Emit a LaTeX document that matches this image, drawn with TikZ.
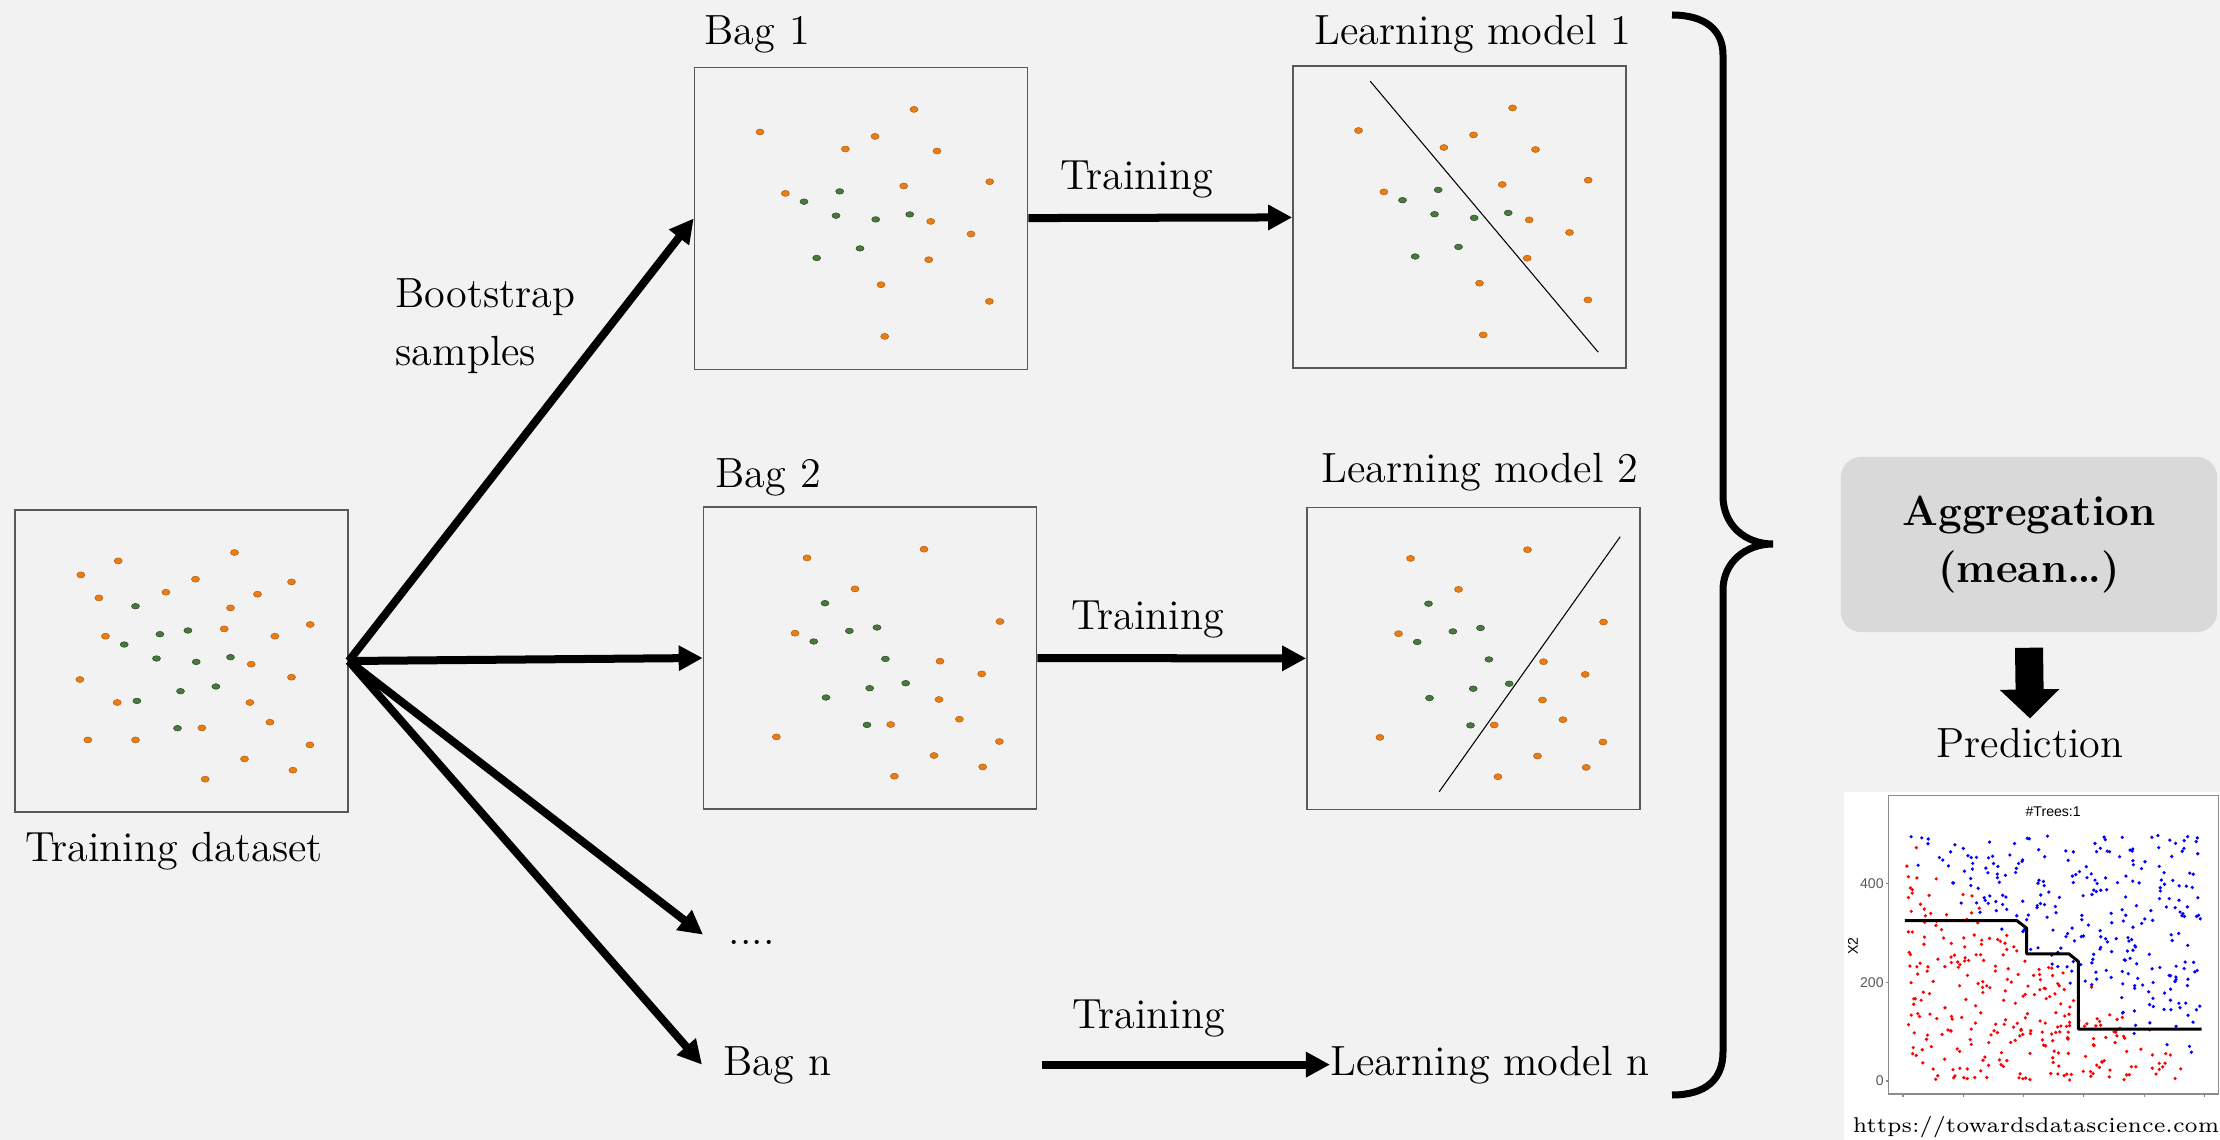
\documentclass[tikz,border=0pt]{standalone}
\usepackage{fontspec}
\newfontfamily\plotfont{Liberation Sans}
\usetikzlibrary{arrows.meta,positioning}
\definecolor{bgcol}{RGB}{242,242,242}
\definecolor{aggcol}{RGB}{217,217,217}
\definecolor{dotorange}{RGB}{235,125,20}
\definecolor{dotgreen}{RGB}{72,122,62}
\definecolor{ptred}{RGB}{255,0,0}
\definecolor{ptblue}{RGB}{0,0,255}
\tikzset{>={Triangle[length=0.24cm,width=0.24cm]}}
\tikzset{
    lbl/.style={font=\fontsize{12}{14}\selectfont,inner sep=0pt,text height=8.2pt,text depth=2.3pt},
    databox/.style={draw=black!65,line width=0.4pt,minimum width=3.33cm,minimum height=3.02cm,inner sep=0pt},
    flow/.style={->,line width=0.08cm},
    orangedot/.style={fill=dotorange,draw=dotorange!75!black,line width=0.15pt},
    greendot/.style={fill=dotgreen,draw=dotgreen!60!black,line width=0.15pt},
    splitline/.style={line width=0.3pt},
    aggbox/.style={fill=aggcol,rounded corners=0.2cm,minimum width=3.76cm,minimum height=1.75cm,
        align=center,font=\bfseries\fontsize{12}{16}\selectfont},
    blockarrow/.style={-{Triangle[length=0.29cm,width=0.58cm]},line width=0.28cm},
    bracestyle/.style={line width=0.07cm},
    plotframe/.style={draw=black!45,line width=0.3pt},
    plottext/.style={font=\plotfont\fontsize{4}{5}\selectfont,inner sep=0pt},
    boundary/.style={line width=0.03cm,line join=round}
}
% point lists, px from the box's top left corner
\newcommand\trainorange{66.7/65.7, 104/51.7, 220.3/43.3, 181.3/70, 277.3/72.7, 84.7/88.7, 151.7/83,
    243.3/85, 216.3/98.7, 296/115.3, 91.3/127, 210/119.7, 260.7/127, 237/155, 65.7/170.3, 277.3/168,
    103/193.3, 235.7/193.3, 255.7/213, 187.7/218.7, 73.7/230.7, 121.3/230.7, 295.7/235.7, 230.3/249.7,
    278.7/261, 191/270}
\newcommand\traingreen{121.3/97, 145.7/125, 173.7/121.3, 110/135.3, 142.3/149.3, 182/152.7, 216.3/148,
    166.3/182, 201.7/177.3, 122.7/191.7, 163.3/219}
\newcommand\bagoneorange{66.3/65.3, 220.3/42.7, 181.3/69.7, 151.7/82.3, 243.3/84.3, 296/115, 91.7/126.7,
    210/119.3, 237/154.7, 277.3/167.3, 235/193, 187.3/218, 295.7/234.7, 191/269.7}
\newcommand\bagonegreen{110.3/135, 146/124.7, 142.3/149, 182/152.7, 216/147.7, 166.3/181.7, 123/191.3}
\newcommand\bagtwoorange{104.3/51.7, 221.3/43, 152.3/82.7, 297.3/115.3, 92.3/127, 237.3/155, 279/167.7,
    236.3/193.3, 256.7/213, 188/218.3, 73.7/230.7, 296.7/235.3, 231.3/249.3, 280/260.7, 191.7/270}
\newcommand\bagtwogreen{122.3/97, 146.7/124.7, 174.3/121.3, 111/135.3, 182.7/152.7, 203/177, 167/182,
    123.3/191.3, 164.3/218.7}
\newcommand\plotdots[3]{%
    \foreach \ox/\oy in #2
        \filldraw[orangedot] ([shift={(\ox,\oy)}]#1.north west) ellipse (0.04cm and 0.03cm);
    \foreach \ox/\oy in #3
        \filldraw[greendot] ([shift={(\ox,\oy)}]#1.north west) ellipse (0.04cm and 0.028cm);
}

\begin{document}
\begin{tikzpicture}[x=0.01cm,y=-0.01cm]
    \fill[bgcol] (0,0) rectangle (2220,1140);
    \useasboundingbox (0,0) rectangle (2220,1140);

    % boxes
    \node[databox] (train) at (181.5,661) {};
    \node[databox] (bag1) at (861,218.5) {};
    \node[databox] (lm1) at (1459.5,217) {};
    \node[databox] (bag2) at (870,658) {};
    \node[databox] (lm2) at (1473.5,658.5) {};
    \plotdots{train}{\trainorange}{\traingreen}
    \plotdots{bag1}{\bagoneorange}{\bagonegreen}
    \plotdots{lm1}{\bagoneorange}{\bagonegreen}
    \plotdots{bag2}{\bagtwoorange}{\bagtwogreen}
    \plotdots{lm2}{\bagtwoorange}{\bagtwogreen}
    \draw[splitline] ([shift={(78,16)}]lm1.north west) -- ([shift={(306,287)}]lm1.north west);
    \draw[splitline] ([shift={(133,285)}]lm2.north west) -- ([shift={(314,30)}]lm2.north west);

    % labels
    \node[lbl,anchor=base] (traint) at (174,862) {Training dataset};
    \node[lbl,anchor=base west] (bag1t) at (704,45) {Bag 1};
    \node[lbl,anchor=base west] (lm1t) at (1314,45) {Learning model 1};
    \node[lbl,anchor=base west] (bag2t) at (715,488) {Bag 2};
    \node[lbl,anchor=base west] (lm2t) at (1321,483) {Learning model 2};
    \node[lbl,anchor=base west,inner xsep=0.25cm] (etc) at (703,945) {....};
    \node[lbl,anchor=base west,inner xsep=0.21cm] (bagn) at (702,1075) {Bag n};
    \node[lbl,anchor=base west] (lmn) at (1330,1075) {Learning model n};
    \node[font=\fontsize{12}{16.5}\selectfont,align=left,anchor=north west,inner sep=0pt] (boot)
        at (395,278) {Bootstrap\\samples};

    \path[flow]
        (train.east) edge (bag1.west)
        (train.east) edge (bag2.west)
        (train.east) edge (etc.west)
        (train.east) edge (bagn.west)
        (bag1) edge node[lbl,pos=0.41,above=0.16cm] {Training} (lm1)
        (bag2) edge node[lbl,pos=0.41,above=0.17cm] {Training} (lm2)
        (bagn.east) edge[shorten <=1.89cm] node[lbl,pos=0.62,above=0.24cm] {Training} (lmn.west)
    ;

    % brace
    \draw[bracestyle] (1672,15) .. controls (1705,15) and (1723,30) .. (1723,55) -- (1723,496)
        .. controls (1723,525) and (1745,544) .. (1773,544)
        .. controls (1745,544) and (1723,563) .. (1723,590) -- (1723,1052)
        .. controls (1723,1080) and (1705,1095) .. (1672,1095);

    \node[aggbox] (agg) at (2029,544.5) {Aggregation\\(mean\dots)};
    \node[lbl,anchor=base] (pred) at (2030,758) {Prediction};
    \draw[blockarrow] ([yshift=-0.15cm]agg.south) -- ([yshift=0.1cm]pred.north);

    % prediction plot
    \fill[white] (1844,792) rectangle (2220,1140);
    \begin{scope}[shift={(1903,1081)},x=0.00602cm,y=0.004925cm]
        \draw[plotframe] (-23.3,-26.4) rectangle (523.3,578.7);
        \node[plottext] (ptitle) at (249,546) {\#Trees:1};
        \foreach \v in {0,200,400} {
            \draw[plotframe] (-23.3,\v) -- (-29,\v);
            \node[plottext,text=black!65,anchor=east] at (-31,\v) {\v};
        }
        \foreach \v in {0,100,...,500}
            \draw[plotframe] (\v,-26.4) -- (\v,-33);
        \node[plottext,rotate=90] (ylab) at (-83,274) {X2};
        \pgfmathsetseed{11}
        \foreach \i in {1,...,560} {
            \pgfmathsetmacro\px{6+488*rnd}
            \pgfmathsetmacro\py{2+496*rnd}
            \pgfmathtruncatemacro\isblue{(\py-470+0.94*\px+70*(rnd-0.5))>0}
            \ifnum\isblue=1 \def\ptcol{ptblue}\else\def\ptcol{ptred}\fi
            \fill[\ptcol] (\px,\py) circle (0.018cm);
        }
        \draw[boundary] (3,325) -- (189,325) -- (205,310) -- (205,258) -- (275,258) -- (291,242)
            -- (291,105) -- (495,105);
    \end{scope}
    \node[font=\fontsize{6.1}{7}\selectfont,anchor=base,inner sep=0pt] (url) at (2036,1132)
        {https://towardsdatascience.com};
\end{tikzpicture}
\end{document}
